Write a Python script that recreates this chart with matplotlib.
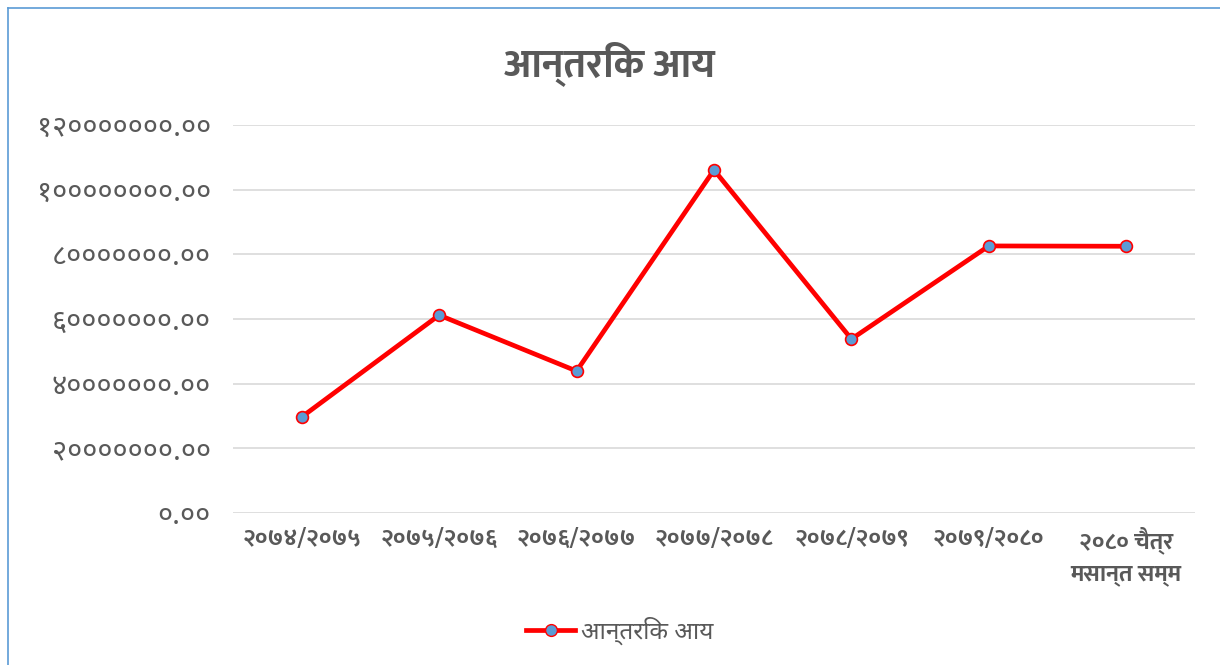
import matplotlib
matplotlib.use("Agg")
import matplotlib.pyplot as plt
from matplotlib.lines import Line2D
from matplotlib.ticker import FuncFormatter

# data
years = ["२०७४/२०७५", "२०७५/२०७६", "२०७६/२०७७", "२०७७/२०७८",
         "२०७८/२०७९", "२०७९/२०८०", "२०८० चैत्र\nमसान्त सम्म"]
income = [29700000, 61200000, 43900000, 106100000, 53800000, 82600000, 82500000]
y_ticks = [0, 20000000, 40000000, 60000000, 80000000, 100000000, 120000000]
title = "आन्तरिक आय"
series_name = "आन्तरिक आय"

fonts = ["Noto Sans Devanagari", "Mukta", "Hind", "FreeSans", "DejaVu Sans"]
bold_fonts = ["Ek Mukta", "Mukta", "Hind", "FreeSans", "DejaVu Sans"]
plt.rcParams["font.family"] = fonts
gray = "#595959"

nep_digits = str.maketrans("0123456789", "०१२३४५६७८९")

def to_nepali(v, pos):
    return ("%.2f" % v).translate(nep_digits)

fig = plt.figure(figsize=(12.2, 6.65), dpi=100)
ax = fig.add_axes([0.191, 0.2286, 0.7885, 0.5834])

x = list(range(len(years)))
ax.plot(x, income, color="#FF0000", linewidth=3.4, marker="o", markersize=8.5,
        markerfacecolor="#5B9BD5", markeredgecolor="#FF0000", markeredgewidth=1.2,
        zorder=3)

ax.set_xlim(-0.5, len(years) - 0.5)
ax.set_ylim(0, 120000000)
ax.set_yticks(y_ticks)
ax.yaxis.set_major_formatter(FuncFormatter(to_nepali))
ax.set_xticks(x)
ax.set_xticklabels(years, family=bold_fonts, fontweight="bold", fontsize=17,
                   color=gray, linespacing=1.45, va="top")
ax.tick_params(axis="y", labelsize=21, colors=gray, length=0, pad=16)
ax.tick_params(axis="x", length=0, pad=10)
ax.grid(axis="y", color="#D9D9D9", linewidth=1.2)
ax.set_axisbelow(True)
for s in ax.spines.values():
    s.set_visible(False)

fig.text(0.5, 0.905, title, ha="center", va="center", fontsize=28.5,
         family=bold_fonts, fontweight="bold", color=gray)

handle = Line2D([], [], color="#FF0000", linewidth=3.4, marker="o", markersize=8.5,
                markerfacecolor="#5B9BD5", markeredgecolor="#FF0000")
fig.legend([handle], [series_name], loc="center", bbox_to_anchor=(0.508, 0.052),
           frameon=False, fontsize=17.5, labelcolor=gray, handlelength=2.0,
           handletextpad=0.25)

# chart border (left and top edge visible)
fig.add_artist(Line2D([0.0066, 0.0066], [0, 0.988], color="#5B9BD5", linewidth=1.2))
fig.add_artist(Line2D([0.0066, 1], [0.988, 0.988], color="#5B9BD5", linewidth=1.2))

fig.savefig("out.png", dpi=100)
